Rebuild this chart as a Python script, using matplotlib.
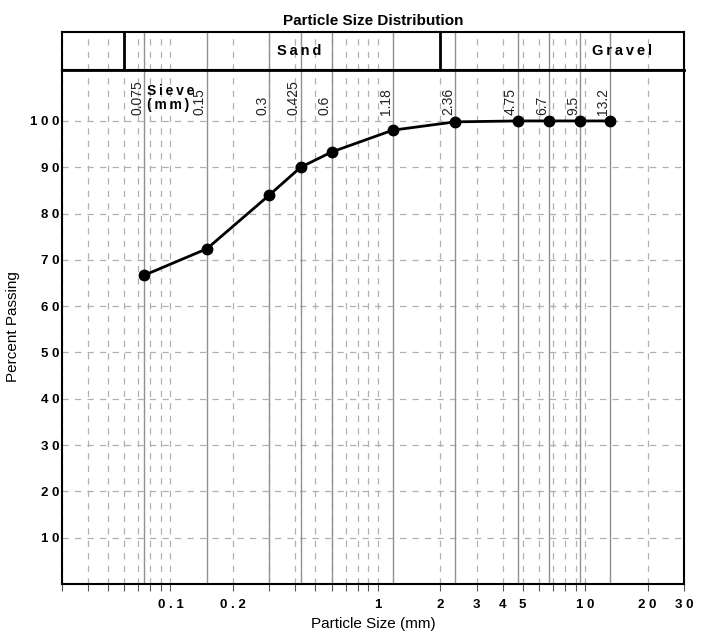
import numpy as np
import matplotlib
matplotlib.use("Agg")
import matplotlib.pyplot as plt

plt.rcParams['font.family'] = ['Liberation Sans', 'DejaVu Sans']

# sieve sizes (mm) and percent passing
sieves = [0.075, 0.15, 0.3, 0.425, 0.6, 1.18, 2.36, 4.75, 6.7, 9.5, 13.2]
sieveLabels = ["0.075", "0.15", "0.3", "0.425", "0.6", "1.18", "2.36", "4.75", "6.7", "9.5", "13.2"]
passing = [66.7, 72.4, 84.0, 90.0, 93.3, 98.0, 99.8, 100.0, 100.0, 100.0, 100.0]

yTicks = [10, 20, 30, 40, 50, 60, 70, 80, 90, 100]
xLabelTicks = [0.1, 0.2, 1, 2, 3, 4, 5, 10, 20, 30]
xLabelTexts = ["0 . 1", "0 . 2", "1", "2", "3", "4", "5", "1 0", "2 0", "3 0"]
bounds = [0.06, 2.0]
soilNames = ["Sand", "Gravel"]
soilNameX = [0.42, 15.0]

xmin, xmax = 0.03, 30.0
gridX = [d*m for d in [0.01, 0.1, 1, 10] for m in range(1, 10) if xmin <= d*m <= xmax]

def spaced(s):
    return "\u2009".join(s)

fig = plt.figure(figsize=(7.1, 6.41), dpi=100)
ax = fig.add_axes([0.0873, 0.0889, 0.8761, 0.8019])
axTop = fig.add_axes([0.0873, 0.8908, 0.8761, 0.0592], sharex=ax)

gridColor = "#b0b0b0"
for a in [ax, axTop]:
    a.set_xscale("log")
    for g in gridX:
        a.axvline(g, color=gridColor, lw=0.9, ls=(0, (5, 5)), zorder=0)
    for s in sieves:
        a.axvline(s, color="#909090", lw=1.0, zorder=1)

for yv in yTicks:
    ax.axhline(yv, color=gridColor, lw=0.9, ls=(0, (5, 5)), zorder=0)

ax.plot(sieves, passing, color="black", lw=2, marker="o", ms=7.5, zorder=5)

ax.set_xlim(xmin, xmax)
ax.set_ylim(0, 111)

ax.set_yticks(yTicks)
ax.set_yticklabels([" ".join(str(v)) for v in yTicks], fontweight="bold", fontsize=9.5)
ax.tick_params(axis="y", length=0, pad=2)

ax.set_xticks(gridX)
ax.set_xticks([], minor=True)
ax.set_xticklabels([xLabelTexts[xLabelTicks.index(g)] if any(abs(g-t) < 1e-9 for t in xLabelTicks) else ""
                    for g in gridX], fontweight="bold", fontsize=9.5)
ax.tick_params(axis="x", length=5, width=0.8, color="#555555", pad=6)

ax.set_xlabel("Particle Size (mm)", fontsize=11, labelpad=4)
ax.set_ylabel("Percent Passing", fontsize=11, labelpad=7)

for s, lbl in zip(sieves, sieveLabels):
    ax.text(s, 101.3, lbl, rotation=90, ha="right", va="bottom", fontsize=10, color="#222222")
ax.text(0.077, 105, spaced("Sieve") + "\n" + spaced("(mm)"), ha="left", va="center",
        fontsize=10, fontweight="bold", linespacing=1.0)

for sp in ax.spines.values():
    sp.set_linewidth(1.5)
ax.spines["top"].set_linewidth(2)

axTop.set_ylim(0, 1)
axTop.set_yticks([])
axTop.tick_params(axis="x", which="both", bottom=False, labelbottom=False)
for sp in axTop.spines.values():
    sp.set_linewidth(1.5)
for b in bounds:
    axTop.axvline(b, color="black", lw=2, zorder=3)
for name, xn in zip(soilNames, soilNameX):
    axTop.text(xn, 0.5, spaced(name), ha="center", va="center", fontsize=10.5, fontweight="bold")
axTop.set_title("Particle Size Distribution", fontsize=11, fontweight="bold", pad=5)

fig.savefig("out.png", dpi=100)
